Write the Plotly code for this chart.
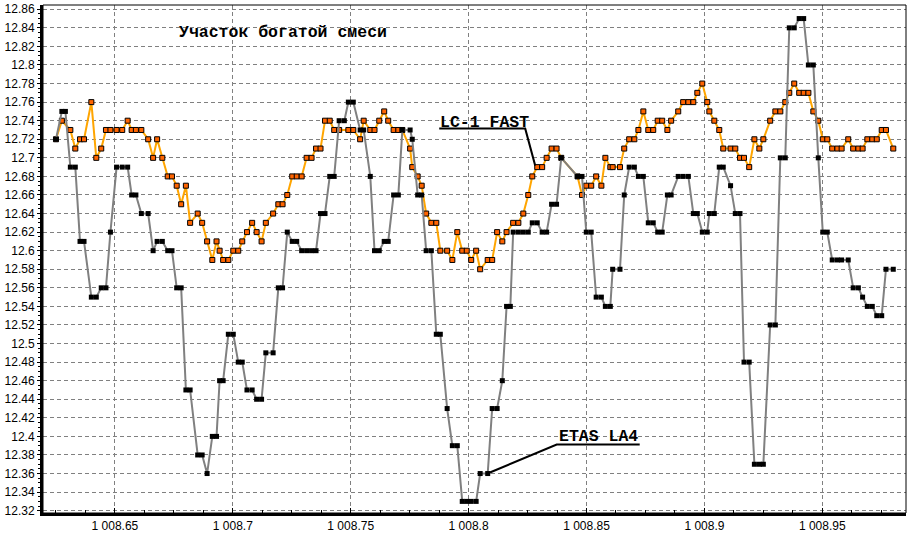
import plotly.graph_objects as go

# ---- data ----
x_vals = [
    1008.6250, 1008.6275, 1008.6290, 1008.6311, 1008.6332, 1008.6352, 1008.6369, 1008.6400,
    1008.6421, 1008.6442, 1008.6462, 1008.6481, 1008.6507, 1008.6531, 1008.6554, 1008.6571,
    1008.6589, 1008.6612, 1008.6641, 1008.6662, 1008.6679, 1008.6701, 1008.6724, 1008.6742,
    1008.6762, 1008.6781, 1008.6801, 1008.6819, 1008.6851, 1008.6870, 1008.6891, 1008.6913,
    1008.6931, 1008.6944, 1008.6959, 1008.6981, 1008.7002, 1008.7023, 1008.7040, 1008.7060,
    1008.7082, 1008.7101, 1008.7122, 1008.7140, 1008.7171, 1008.7193, 1008.7211, 1008.7231,
    1008.7252, 1008.7271, 1008.7292, 1008.7313, 1008.7334, 1008.7353, 1008.7372, 1008.7391,
    1008.7411, 1008.7430, 1008.7451, 1008.7473, 1008.7490, 1008.7511, 1008.7540, 1008.7555,
    1008.7583, 1008.7601, 1008.7621, 1008.7642, 1008.7659, 1008.7682, 1008.7702, 1008.7719,
    1008.7752, 1008.7761, 1008.7784, 1008.7801, 1008.7820, 1008.7842, 1008.7863, 1008.7880,
    1008.7909, 1008.7931, 1008.7952, 1008.7973, 1008.7992, 1008.8011, 1008.8032, 1008.8049,
    1008.8081, 1008.8100, 1008.8121, 1008.8143, 1008.8161, 1008.8177, 1008.8189, 1008.8211,
    1008.8232, 1008.8253, 1008.8270, 1008.8291, 1008.8312, 1008.8331, 1008.8352, 1008.8373,
    1008.8393, 1008.8462, 1008.8481, 1008.8499, 1008.8520, 1008.8541, 1008.8563, 1008.8580,
    1008.8601, 1008.8611, 1008.8642, 1008.8660, 1008.8681, 1008.8703, 1008.8720, 1008.8741,
    1008.8762, 1008.8783, 1008.8802, 1008.8821, 1008.8843, 1008.8859, 1008.8889, 1008.8910,
    1008.8932, 1008.8953, 1008.8970, 1008.8991, 1008.9012, 1008.9021, 1008.9042, 1008.9063,
    1008.9080, 1008.9111, 1008.9131, 1008.9151, 1008.9168, 1008.9190, 1008.9212, 1008.9233,
    1008.9250, 1008.9279, 1008.9301, 1008.9322, 1008.9343, 1008.9360, 1008.9381, 1008.9402,
    1008.9421, 1008.9441, 1008.9462, 1008.9483, 1008.9502, 1008.9521, 1008.9542, 1008.9564,
    1008.9582, 1008.9610, 1008.9631, 1008.9653, 1008.9671, 1008.9691, 1008.9712, 1008.9731,
    1008.9752, 1008.9770, 1008.9801,
]

lc1_fast = [
    12.72, 12.74, None, 12.73, 12.71, 12.72, 12.72, 12.76,
    12.70, 12.71, 12.73, 12.73, 12.73, 12.73, 12.74, 12.73,
    12.73, 12.73, 12.72, 12.70, 12.72, 12.70, 12.68, 12.68,
    12.67, 12.65, 12.67, 12.63, 12.64, 12.63, 12.61, 12.59,
    12.61, 12.60, 12.59, 12.59, 12.60, 12.60, 12.61, 12.62,
    12.63, 12.62, 12.61, 12.63, 12.64, 12.65, 12.65, 12.66,
    12.68, 12.68, 12.68, 12.70, 12.70, 12.71, 12.71, 12.74,
    12.74, 12.73, 12.73, None, 12.73, 12.73, 12.72, 12.74,
    12.73, 12.73, 12.74, 12.75, 12.74, 12.73, 12.73, 12.73,
    12.71, 12.69, 12.68, 12.67, 12.64, 12.63, 12.63, 12.60,
    12.60, 12.59, 12.62, 12.60, 12.60, 12.59, 12.60, 12.58,
    12.59, 12.59, 12.62, 12.61, 12.62, None, 12.63, 12.63,
    12.64, 12.66, 12.68, 12.69, 12.69, 12.70, 12.71, 12.71,
    12.70, 12.68, 12.66, 12.67, 12.67, 12.68, 12.67, 12.70,
    12.69, 12.69, 12.69, 12.71, 12.72, 12.72, 12.73, 12.75,
    12.73, 12.73, 12.74, 12.74, 12.73, 12.74, 12.75, 12.76,
    12.76, 12.76, 12.77, 12.78, 12.76, 12.75, 12.74, 12.73,
    12.71, 12.71, 12.71, 12.70, 12.70, 12.69, 12.72, 12.71,
    12.72, 12.74, 12.75, 12.75, 12.76, 12.77, 12.78, 12.77,
    12.77, 12.77, 12.75, 12.74, 12.72, 12.72, 12.71, 12.71,
    12.71, 12.72, 12.71, 12.71, 12.71, 12.72, 12.72, 12.72,
    12.73, 12.73, 12.71,
]

etas_la4 = [
    12.72, 12.75, 12.75, 12.69, 12.69, 12.61, 12.61, 12.55,
    12.55, 12.56, 12.56, 12.62, 12.69, 12.69, 12.69, 12.66,
    12.66, 12.64, 12.64, 12.60, 12.61, 12.61, 12.60, 12.60,
    12.56, 12.56, 12.45, 12.45, 12.38, 12.38, 12.36, 12.40,
    12.40, 12.46, 12.46, 12.51, 12.51, 12.48, 12.48, 12.45,
    12.45, 12.44, 12.44, 12.49, 12.49, 12.56, 12.56, 12.62,
    12.61, 12.61, 12.60, 12.60, 12.60, 12.60, 12.64, 12.64,
    12.68, 12.68, 12.74, 12.74, 12.76, 12.76, 12.73, 12.73,
    12.68, 12.60, 12.60, 12.61, 12.61, 12.66, 12.66, 12.73,
    12.73, 12.72, 12.66, 12.66, 12.60, 12.60, 12.51, 12.51,
    12.43, 12.39, 12.39, 12.33, 12.33, 12.33, 12.33, 12.36,
    12.36, 12.43, 12.43, 12.46, 12.54, 12.54, 12.62, 12.62,
    12.62, 12.62, 12.63, 12.63, 12.62, 12.62, 12.65, 12.65,
    12.70, 12.68, 12.68, 12.62, 12.62, 12.55, 12.55, 12.54,
    12.54, 12.58, 12.58, 12.66, 12.69, 12.69, 12.68, 12.68,
    12.63, 12.63, 12.62, 12.62, 12.66, 12.66, 12.68, 12.68,
    12.68, 12.64, 12.64, 12.62, 12.62, 12.64, 12.64, 12.69,
    12.69, 12.67, 12.64, 12.64, 12.48, 12.48, 12.37, 12.37,
    12.37, 12.52, 12.52, 12.70, 12.70, 12.84, 12.84, 12.85,
    12.85, 12.80, 12.80, 12.70, 12.62, 12.62, 12.59, 12.59,
    12.59, 12.59, 12.56, 12.56, 12.55, 12.54, 12.54, 12.53,
    12.53, 12.58, 12.58,
]

x_tick_vals = [1008.65, 1008.70, 1008.75, 1008.80, 1008.85, 1008.90, 1008.95]
x_tick_text = ["1 008.65", "1 008.7", "1 008.75", "1 008.8", "1 008.85", "1 008.9", "1 008.95"]
y_tick_vals = [round(12.32 + 0.02 * i, 2) for i in range(28)]
y_tick_text = [("%.2f" % v).rstrip("0").rstrip(".") for v in y_tick_vals]

title_text = "Участок богатой смеси"
label_lc1 = "LC-1 FAST"
label_etas = "ETAS LA4"
lc1_label_index = 99     # point the LC-1 FAST leader points to
etas_label_index = 88    # point the ETAS LA4 leader points to

# ---- figure ----
fig = go.Figure()
fig.add_trace(go.Scatter(
    x=x_vals, y=lc1_fast, mode="lines+markers", connectgaps=True,
    line=dict(color="#FFA500", width=2),
    marker=dict(symbol="square", size=5, color="#FF6400",
                line=dict(color="black", width=1)),
    name=label_lc1, showlegend=False, hoverinfo="x+y",
))
fig.add_trace(go.Scatter(
    x=x_vals, y=etas_la4, mode="lines+markers", connectgaps=True,
    line=dict(color="#808080", width=2),
    marker=dict(symbol="square", size=5, color="black", line=dict(width=0)),
    name=label_etas, showlegend=False, hoverinfo="x+y",
))

mono = "Liberation Mono, Courier New, monospace"
lx, ly = x_vals[lc1_label_index], lc1_fast[lc1_label_index]
ex, ey = x_vals[etas_label_index], etas_la4[etas_label_index]

shapes = [
    dict(type="path", xref="x", yref="y", xsizemode="pixel", ysizemode="pixel",
         xanchor=lx, yanchor=ly, path="M-98,38.5 L-12,38.5 L-2,1.5",
         line=dict(color="black", width=2)),
    dict(type="path", xref="x", yref="y", xsizemode="pixel", ysizemode="pixel",
         xanchor=ex, yanchor=ey, path="M1,0.5 L69,29 L152,29",
         line=dict(color="black", width=2)),
    dict(type="rect", xref="paper", yref="paper", x0=0, x1=1, y0=0, y1=1,
         line=dict(color="black", width=1), layer="above"),
]

annotations = [
    dict(text="<b>%s</b>" % title_text, xref="paper", yref="paper", x=0.155, y=0.945,
         xanchor="left", yanchor="middle", showarrow=False,
         font=dict(family=mono, size=16.5, color="black")),
    dict(text="<b>%s</b>" % label_lc1, xref="x", yref="y", x=lx, y=ly,
         xshift=-99, yshift=45, xanchor="left", yanchor="middle", showarrow=False,
         font=dict(family=mono, size=16.5, color="black")),
    dict(text="<b>%s</b>" % label_etas, xref="x", yref="y", x=ex, y=ey,
         xshift=69.5, yshift=37, xanchor="left", yanchor="middle", showarrow=False,
         font=dict(family=mono, size=16.5, color="black")),
]

fig.update_layout(
    width=914, height=540,
    margin=dict(l=43, r=8, t=5, b=27, autoexpand=False),
    paper_bgcolor="white", plot_bgcolor="white",
    shapes=shapes, annotations=annotations,
    font=dict(family="Liberation Sans, Arial, sans-serif", size=12, color="black"),
)
fig.update_xaxes(
    range=[1008.6195, 1008.9855], automargin=False,
    tickvals=x_tick_vals, ticktext=x_tick_text,
    ticks="inside", ticklen=5, tickwidth=1, tickcolor="black",
    minor=dict(dtick=0.0125, tick0=1008.65, ticks="inside", ticklen=3,
               tickcolor="black", showgrid=False),
    showgrid=True, gridcolor="#808080", gridwidth=1, griddash="4px,3px",
    showline=True, linecolor="black", linewidth=3, zeroline=False,
    tickfont=dict(size=12, color="black"),
)
fig.update_yaxes(
    range=[12.3175, 12.8646], automargin=False,
    tickvals=y_tick_vals, ticktext=y_tick_text,
    ticks="outside", ticklen=3, tickwidth=1, tickcolor="black",
    minor=dict(dtick=0.005, tick0=12.32, ticks="outside", ticklen=2,
               tickcolor="black", showgrid=False),
    showgrid=True, gridcolor="#808080", gridwidth=1, griddash="4px,3px",
    showline=True, linecolor="black", linewidth=3, zeroline=False,
    tickfont=dict(size=12, color="black"),
)

fig.write_html(
    "out.html",
    config={"displayModeBar": False},
    post_script="document.body.style.margin='0';document.body.style.overflow='hidden';",
)
